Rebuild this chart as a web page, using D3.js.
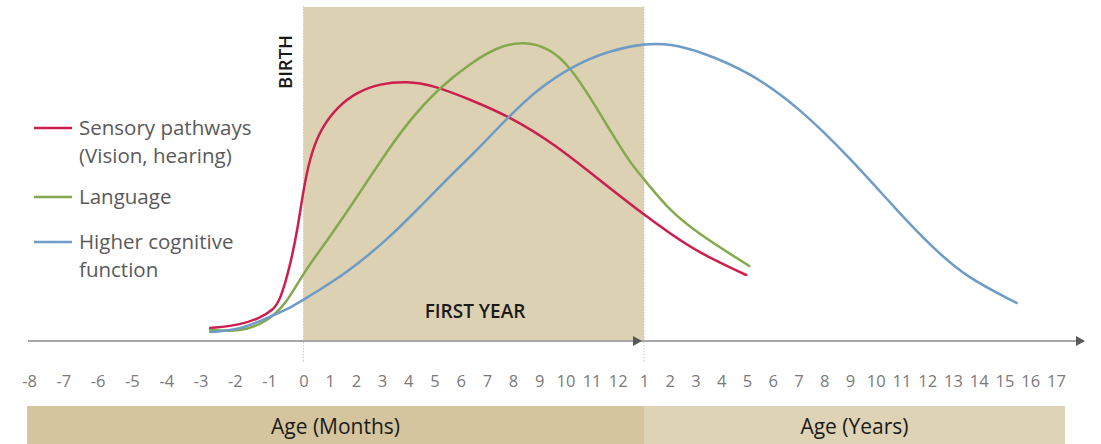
<!DOCTYPE html>
<html>
<head>
<meta charset="utf-8">
<script src="https://cdn.jsdelivr.net/npm/d3@7"></script>
<style>
  body { margin: 0; background: #fff; }
  svg { display: block; font-family: "Open Sans", sans-serif; }
</style>
</head>
<body>
<svg width="1101" height="444"></svg>
<script>
// tick labels along the age axis: months before birth, months of first year, then years
const tickLabels = ['-8','-7','-6','-5','-4','-3','-2','-1','0',
  '1','2','3','4','5','6','7','8','9','10','11','12',
  '1','2','3','4','5','6','7','8','9','10','11','12','13','14','15','16','17'];

// curve points: [axis position (tick index), relative development level 0-100]
const sensory = [[5.28,4.3],[6.15,5.3],[6.73,7.7],[7.11,10.3],[7.32,13.5],[7.61,25],[7.84,38],
  [7.99,50],[8.25,61.3],[8.63,70.3],[9.28,78],[10.04,83],[10.92,85.8],[11.95,86.6],
  [12.94,85.3],[14.36,80.5],[15.89,74.7],[17.53,66],[19.44,52.7],[21.12,41.3],[21.99,36],
  [23.15,29.3],[24.97,22]];
const language = [[5.28,3.7],[6.15,3],[6.94,6.3],[7.52,12.7],[7.99,22.7],[9.01,34.7],[10.04,48],
  [10.92,59.7],[11.95,72.7],[13.21,84.7],[14.36,92.5],[15.39,98],[16.38,100],[17.41,97.6],
  [18.18,91.3],[18.94,81.3],[19.7,70.3],[20.47,59.3],[21.12,52.7],[21.99,43.5],[23.15,35.5],[25.09,25]];
const cognitive = [[5.28,3],[6.15,3.7],[6.94,7.7],[7.61,11],[7.99,13.7],[9.66,22.7],[11.19,33.7],
  [12.45,44.7],[13.71,56],[14.36,61.3],[15.89,75.3],[16.92,83.7],[18.18,91.3],[19.7,97],
  [21.12,99.2],[21.99,99],[23.17,96.6],[25.09,89.7],[27.04,77.7],[28.97,61.3],[30.91,42.7],
  [32.19,31.3],[33.5,21.3],[35.47,12.7]];

const seriesNames = ['Sensory pathways|(Vision, hearing)', 'Language', 'Higher cognitive|function'];
const seriesColors = ['#cc1f4e', '#84a94d', '#6e9cc6'];
const series = [sensory, language, cognitive];

const svg = d3.select('svg');

// positions: birth at index 8, one year at index 21
const x = d3.scaleLinear().domain([0, 8, 21, 37]).range([29, 303.5, 644, 1056]);
const y = d3.scaleLinear().domain([0, 100]).range([341, 41]);

// first year shaded box
svg.append('rect')
  .attr('x', x(8)).attr('y', 7)
  .attr('width', x(21) - x(8)).attr('height', y(0) - 7)
  .attr('fill', '#ddd1b3');

// dotted markers at birth and one year
[8, 21].forEach(i => {
  svg.append('line')
    .attr('x1', x(i)).attr('x2', x(i))
    .attr('y1', 6).attr('y2', 362)
    .attr('stroke', '#c8c8c8').attr('stroke-width', 1)
    .attr('stroke-dasharray', '1.5,1.5');
});

// main axis line with arrow heads
svg.append('line')
  .attr('x1', 28).attr('x2', 1080)
  .attr('y1', y(0)).attr('y2', y(0))
  .attr('stroke', '#a6a6a6').attr('stroke-width', 2);
[x(21) - 2, 1085].forEach(tip => {
  svg.append('path')
    .attr('d', `M${tip},${y(0)} l-9,-5 l0,10 z`)
    .attr('fill', '#595959');
});

// tick labels
const axis = d3.axisBottom(x)
  .tickValues(d3.range(tickLabels.length))
  .tickFormat(i => tickLabels[i])
  .tickSize(0)
  .tickPadding(0);
const gAxis = svg.append('g')
  .attr('transform', 'translate(0,375)')
  .call(axis);
gAxis.select('.domain').remove();
gAxis.selectAll('text')
  .attr('fill', '#7a7a7a')
  .style('font-size', '16.5px')
  .style('font-family', '"Open Sans", sans-serif');

// curves (basis spline smooths out the hand-read points)
const line = d3.line()
  .x(d => x(d[0]))
  .y(d => y(d[1]))
  .curve(d3.curveBasis);
series.forEach((s, i) => {
  svg.append('path')
    .datum(s)
    .attr('d', line)
    .attr('fill', 'none')
    .attr('stroke', seriesColors[i])
    .attr('stroke-width', 2.5)
    .attr('stroke-linecap', 'round');
});

// legend
const legendY = [128, 197, 242];
seriesNames.forEach((name, i) => {
  svg.append('line')
    .attr('x1', 34).attr('x2', 72)
    .attr('y1', legendY[i]).attr('y2', legendY[i])
    .attr('stroke', seriesColors[i]).attr('stroke-width', 2.5);
  name.split('|').forEach((t, j) => {
    svg.append('text')
      .attr('x', 79).attr('y', legendY[i] + j * 28)
      .attr('dy', '0.35em')
      .attr('fill', '#595959')
      .style('font-size', '20.5px')
      .text(t);
  });
});

// annotations
svg.append('text')
  .attr('transform', `translate(292,62) rotate(-90)`)
  .attr('text-anchor', 'middle')
  .attr('fill', '#1a1a1a')
  .style('font-size', '18.5px')
  .style('font-weight', 600)
  .text('BIRTH');
svg.append('text')
  .attr('x', 475).attr('y', 311)
  .attr('dy', '0.35em')
  .attr('text-anchor', 'middle')
  .attr('fill', '#1a1a1a')
  .style('font-size', '19px')
  .style('font-weight', 600)
  .text('FIRST YEAR');

// bottom age bands
const bands = [
  {label: 'Age (Months)', x0: 27, x1: x(21), color: '#d4c59e'},
  {label: 'Age (Years)', x0: x(21), x1: 1065, color: '#dfd3b5'}
];
bands.forEach(b => {
  svg.append('rect')
    .attr('x', b.x0).attr('y', 406)
    .attr('width', b.x1 - b.x0).attr('height', 38)
    .attr('fill', b.color);
  svg.append('text')
    .attr('x', (b.x0 + b.x1) / 2).attr('y', 427)
    .attr('dy', '0.35em')
    .attr('text-anchor', 'middle')
    .attr('fill', '#1a1a1a')
    .style('font-size', '21px')
    .text(b.label);
});
</script>
</body>
</html>
